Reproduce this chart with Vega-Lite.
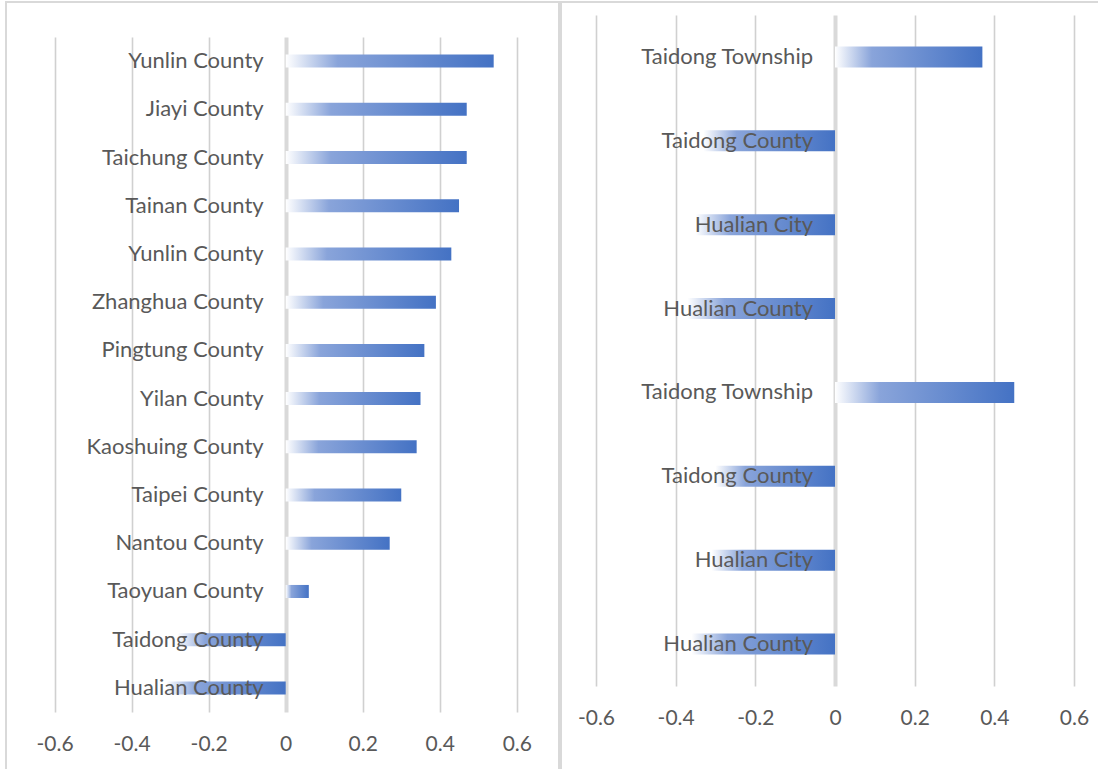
{
  "$schema": "https://vega.github.io/schema/vega-lite/v6.json",
  "background": "white",
  "padding": {"left": 5, "top": 1, "right": 0, "bottom": 0},
  "spacing": 0,
  "config": {
    "font": "Lato",
    "view": {"stroke": "#d9d9d9", "strokeWidth": 2},
    "axis": {
      "domain": false,
      "ticks": false,
      "grid": true,
      "gridColor": {"condition": {"test": "datum.value == 0", "value": "#d9d9d9"}, "value": "#d0d0d0"},
      "gridWidth": {"condition": {"test": "datum.value == 0", "value": 4}, "value": 1.6},
      "labelFont": "Lato",
      "labelFontSize": 21,
      "labelColor": "#595959",
      "labelBaseline": "middle",
      "labelFlush": false,
      "labelOverlap": false
    }
  },
  "datasets": {
    "west": [
      {"rank": 1, "region": "Yunlin County", "value": 0.54},
      {"rank": 2, "region": "Jiayi County\u00a0", "value": 0.47},
      {"rank": 3, "region": "Taichung County", "value": 0.47},
      {"rank": 4, "region": "Tainan County", "value": 0.45},
      {"rank": 5, "region": "Yunlin County", "value": 0.43},
      {"rank": 6, "region": "Zhanghua County", "value": 0.39},
      {"rank": 7, "region": "Pingtung County", "value": 0.36},
      {"rank": 8, "region": "Yilan County", "value": 0.35},
      {"rank": 9, "region": "Kaoshuing County", "value": 0.34},
      {"rank": 10, "region": "Taipei County", "value": 0.30},
      {"rank": 11, "region": "Nantou County", "value": 0.27},
      {"rank": 12, "region": "Taoyuan County", "value": 0.06},
      {"rank": 13, "region": "Taidong County", "value": -0.28},
      {"rank": 14, "region": "Hualian County", "value": -0.31}
    ],
    "east": [
      {"rank": 1, "region": "Taidong Township", "value": 0.37},
      {"rank": 2, "region": "Taidong County", "value": -0.33},
      {"rank": 3, "region": "Hualian City", "value": -0.35},
      {"rank": 4, "region": "Hualian County", "value": -0.37},
      {"rank": 5, "region": "Taidong Township", "value": 0.45},
      {"rank": 6, "region": "Taidong County", "value": -0.30},
      {"rank": 7, "region": "Hualian City", "value": -0.31},
      {"rank": 8, "region": "Hualian County", "value": -0.36}
    ]
  },
  "hconcat": [
    {
      "width": 553,
      "height": 772,
      "data": {"name": "west"},
      "encoding": {
        "y": {
          "field": "rank",
          "type": "ordinal",
          "sort": null,
          "axis": null,
          "scale": {"range": [35, 710], "paddingInner": 0.73, "paddingOuter": 0.365}
        }
      },
      "layer": [
        {
          "mark": {
            "type": "bar",
            "color": {
              "gradient": "linear",
              "x1": 0, "y1": 0, "x2": 1, "y2": 0,
              "stops": [
                {"offset": 0, "color": "#ffffff"},
                {"offset": 0.25, "color": "#89a4da"},
                {"offset": 1, "color": "#4472c4"}
              ]
            }
          },
          "encoding": {
            "x": {
              "field": "value",
              "type": "quantitative",
              "scale": {"domain": [-0.6, 0.6], "range": [48.6, 510.8], "nice": false, "zero": false},
              "axis": {
                "orient": "top",
                "title": null,
                "values": [-0.6, -0.4, -0.2, 0, 0.2, 0.4, 0.6],
                "labelExpr": "datum.value == 0 ? '0' : (datum.value < 0 ? '-' : '') + format(abs(datum.value), '.1f')",
                "labelPadding": -742
              }
            }
          }
        },
        {
          "mark": {"type": "text", "align": "right", "baseline": "middle", "dx": -22, "fontSize": 22, "color": "#595959"},
          "encoding": {
            "x": {"datum": 0},
            "text": {"field": "region"}
          }
        }
      ]
    },
    {
      "width": 541,
      "height": 772,
      "data": {"name": "east"},
      "encoding": {
        "y": {
          "field": "rank",
          "type": "ordinal",
          "sort": null,
          "axis": null,
          "scale": {"range": [13, 684], "paddingInner": 0.75, "paddingOuter": 0.375}
        }
      },
      "layer": [
        {
          "mark": {
            "type": "bar",
            "color": {
              "gradient": "linear",
              "x1": 0, "y1": 0, "x2": 1, "y2": 0,
              "stops": [
                {"offset": 0, "color": "#ffffff"},
                {"offset": 0.25, "color": "#89a4da"},
                {"offset": 1, "color": "#4472c4"}
              ]
            }
          },
          "encoding": {
            "x": {
              "field": "value",
              "type": "quantitative",
              "scale": {"domain": [-0.6, 0.6], "range": [35, 513], "nice": false, "zero": false},
              "axis": {
                "orient": "top",
                "title": null,
                "values": [-0.6, -0.4, -0.2, 0, 0.2, 0.4, 0.6],
                "labelExpr": "datum.value == 0 ? '0' : (datum.value < 0 ? '-' : '') + format(abs(datum.value), '.1f')",
                "labelPadding": -716
              }
            }
          }
        },
        {
          "mark": {"type": "text", "align": "right", "baseline": "middle", "dx": -22, "fontSize": 22, "color": "#595959"},
          "encoding": {
            "x": {"datum": 0},
            "text": {"field": "region"}
          }
        }
      ]
    }
  ]
}
